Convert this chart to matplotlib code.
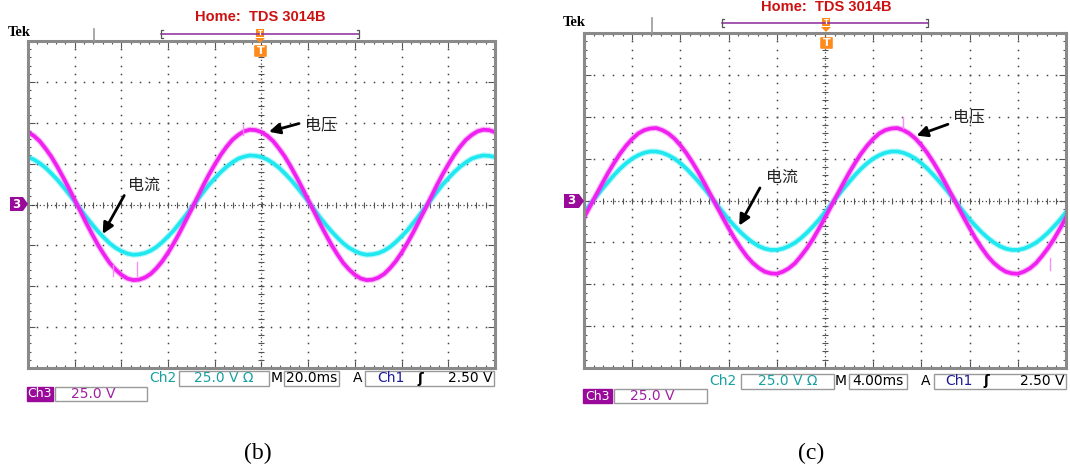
import numpy as np
import matplotlib
matplotlib.use("Agg")
import matplotlib.pyplot as plt
from matplotlib.patches import Rectangle, Polygon, FancyBboxPatch

# ---- trace samples, in screen divisions (10 x 8 grid) ----
# one sample every 0.125 div; each period spans 40 samples (5 div) and the
# screen shows two periods plus the closing sample
x_div = np.linspace(-5, 5, 81)

# panel (b): M 20.0ms
volt_b_cycle = [1.77, 1.68, 1.55, 1.37, 1.17, 0.93, 0.67, 0.40, 0.11, -0.17,
                -0.46, -0.73, -0.99, -1.22, -1.43, -1.59, -1.72, -1.81, -1.85, -1.84,
                -1.79, -1.70, -1.56, -1.39, -1.18, -0.94, -0.68, -0.40, -0.12, 0.17,
                0.46, 0.73, 0.98, 1.21, 1.41, 1.58, 1.70, 1.79, 1.83, 1.82]
curr_b_cycle = [1.16, 1.10, 1.01, 0.90, 0.76, 0.61, 0.44, 0.26, 0.08, -0.12,
                -0.31, -0.49, -0.66, -0.81, -0.95, -1.06, -1.14, -1.20, -1.23, -1.22,
                -1.19, -1.13, -1.04, -0.92, -0.78, -0.63, -0.45, -0.27, -0.08, 0.11,
                0.30, 0.48, 0.64, 0.79, 0.92, 1.03, 1.12, 1.17, 1.20, 1.19]

# panel (c): M 4.00ms
volt_c_cycle = [-0.41, -0.14, 0.13, 0.40, 0.66, 0.90, 1.12, 1.31, 1.47, 1.60,
                1.68, 1.72, 1.73, 1.68, 1.60, 1.48, 1.32, 1.13, 0.91, 0.67,
                0.41, 0.14, -0.13, -0.40, -0.66, -0.91, -1.13, -1.33, -1.49, -1.61,
                -1.70, -1.74, -1.75, -1.70, -1.62, -1.50, -1.33, -1.14, -0.92, -0.67]
curr_c_cycle = [-0.28, -0.10, 0.09, 0.27, 0.44, 0.61, 0.76, 0.89, 1.00, 1.08,
                1.14, 1.17, 1.17, 1.14, 1.08, 1.00, 0.89, 0.76, 0.61, 0.45,
                0.28, 0.10, -0.09, -0.27, -0.45, -0.61, -0.76, -0.89, -1.00, -1.09,
                -1.15, -1.18, -1.18, -1.15, -1.09, -1.01, -0.90, -0.77, -0.62, -0.46]

# glitch spikes on the voltage trace: (x, y_low, y_high)
spikes_b = [(-0.40, 1.70, 1.95), (-3.18, -1.75, -1.48), (-2.67, -1.75, -1.41)]
spikes_c = [(1.62, 1.73, 1.99), (4.67, -1.66, -1.37)]

# readout strings
timebase_b = "20.0ms"
timebase_c = "4.00ms"
ch2_scale = "25.0 V \u03a9"
ch3_scale = "25.0 V"
trig_level = "2.50 V"

MAGENTA = "#f020f0"
CYAN = "#20e8f0"
ORANGE = "#ff8a1c"
PURPLE = "#9a0a9a"
W, H = 1070, 468

fig = plt.figure(figsize=(W / 100, H / 100), dpi=100)


def px_axes(l, t, r, b):
    return fig.add_axes([l / W, 1 - b / H, (r - l) / W, (b - t) / H])


def two_periods(cycle):
    return cycle + cycle + cycle[:1]


def draw_screen(ax, volt, curr, spikes):
    ax.set_xlim(-5, 5)
    ax.set_ylim(-4, 4)
    ax.set_xticks(np.arange(-5, 5.01, 1))
    ax.set_yticks(np.arange(-4, 4.01, 1))
    ax.set_xticks(np.arange(-5, 5.01, 0.2), minor=True)
    ax.set_yticks(np.arange(-4, 4.01, 0.2), minor=True)
    ax.tick_params(which="both", direction="in", top=True, right=True,
                   labelbottom=False, labelleft=False, color="#555555", width=0.8)
    ax.tick_params(which="major", length=5)
    ax.tick_params(which="minor", length=2.5)
    for s in ax.spines.values():
        s.set_color("#8a8a8a")
        s.set_linewidth(2.2)

    fine = np.arange(-4, 4.01, 0.2)
    fine_x = np.arange(-5, 5.01, 0.2)
    for xv in range(-4, 5):
        if xv != 0:
            ax.plot(np.full_like(fine, xv), fine, ls="none", marker="s",
                    ms=1.1, color="#444444", mew=0)
    for yv in range(-3, 4):
        if yv != 0:
            ax.plot(fine_x, np.full_like(fine_x, yv), ls="none", marker="s",
                    ms=1.1, color="#444444", mew=0)
    # centre cross: dotted lines with small division ticks
    ax.axhline(0, color="#444444", lw=0.9, ls=(0, (1, 2)))
    ax.axvline(0, color="#444444", lw=0.9, ls=(0, (1, 2)))
    ax.plot(fine_x, np.zeros_like(fine_x), ls="none", marker="|", ms=5,
            color="#555555", mew=0.8)
    ax.plot(np.zeros_like(fine), fine, ls="none", marker="_", ms=5,
            color="#555555", mew=0.8)

    # traces (soft halo under a solid core)
    ax.plot(x_div, curr, color=CYAN, lw=4.4, alpha=0.3, solid_joinstyle="round")
    ax.plot(x_div, curr, color=CYAN, lw=2.7, solid_joinstyle="round")
    ax.plot(x_div, volt, color=MAGENTA, lw=4.4, alpha=0.3, solid_joinstyle="round")
    ax.plot(x_div, volt, color=MAGENTA, lw=2.7, solid_joinstyle="round")
    for sx, lo, hi in spikes:
        ax.plot([sx, sx], [lo, hi], color="#f590f5", lw=1.0)


def label_arrow(ax, text, text_xy, tail, head):
    ax.annotate("", xy=head, xytext=tail,
                arrowprops=dict(arrowstyle="-|>", color="black", lw=2.0,
                                mutation_scale=16, shrinkA=0, shrinkB=0))
    ax.text(text_xy[0], text_xy[1], text, fontsize=11.5, color="#222222",
            family=["Noto Sans CJK SC", "DejaVu Sans"], ha="left", va="center")


scope_b = px_axes(28, 41, 495, 368)
scope_c = px_axes(584, 33, 1066, 368)
draw_screen(scope_b, two_periods(volt_b_cycle), two_periods(curr_b_cycle), spikes_b)
draw_screen(scope_c, two_periods(volt_c_cycle), two_periods(curr_c_cycle), spikes_c)

label_arrow(scope_b, "电压", (0.93, 1.96), (0.80, 1.98), (0.16, 1.78))
label_arrow(scope_b, "电流", (-2.86, 0.47), (-2.94, 0.22), (-3.40, -0.72))
label_arrow(scope_c, "电压", (2.66, 2.0), (2.55, 1.82), (1.90, 1.55))
label_arrow(scope_c, "电流", (-1.22, 0.56), (-1.35, 0.30), (-1.78, -0.60))

# ---- header, markers and readouts in pixel coordinates ----
ov = fig.add_axes([0, 0, 1, 1])
ov.set_xlim(0, W)
ov.set_ylim(H, 0)
ov.axis("off")


def box(x0, x1, y0, y1, fc="white", ec="#9a9a9a"):
    ov.add_patch(Rectangle((x0, y0), x1 - x0, y1 - y0, facecolor=fc,
                           edgecolor=ec, lw=1.0))


def trigger_marks(xc, y_bar, y_top):
    # small trigger position tag on the record bar
    ov.add_patch(Rectangle((xc - 4, y_bar - 5), 8, 8, facecolor=ORANGE,
                           edgecolor="none"))
    ov.text(xc, y_bar - 1, "T", fontsize=5, color="white", weight="bold",
            ha="center", va="center")
    ov.add_patch(Polygon([(xc - 5, y_bar + 4), (xc + 5, y_bar + 4), (xc, y_bar + 9)],
                         closed=True, facecolor=ORANGE, edgecolor="none"))
    # T marker just inside the top of the screen
    ov.add_patch(FancyBboxPatch((xc - 5, y_top + 5), 11, 10,
                                boxstyle="round,pad=0.8", facecolor=ORANGE,
                                edgecolor="none"))
    ov.text(xc + 0.5, y_top + 10.5, "T", fontsize=8, color="white", weight="bold",
            ha="center", va="center")


def header(x_tek, y_tek, x_tick, x_br0, x_br1, y_br, xc, y_home, y_top):
    ov.text(xc, y_home, "Home:  TDS 3014B", fontsize=10.5, color="#cc1111",
            weight="bold", family="Liberation Sans", ha="center", va="center")
    ov.text(x_tek, y_tek, "Tek", fontsize=10.5, color="black", weight="bold",
            family="Liberation Serif", ha="left", va="center")
    ov.plot([x_tick, x_tick], [y_br - 5, y_top], color="#999999", lw=1.2)
    ov.plot([x_br0, x_br1], [y_br, y_br], color="#8a2a9a", lw=1.1)
    for xb, d in ((x_br0, 2), (x_br1, -2)):
        ov.plot([xb + d, xb, xb, xb + d], [y_br - 4, y_br - 4, y_br + 4, y_br + 4],
                color="#555555", lw=0.9)
    trigger_marks(xc, y_br, y_top)


def ch3_marker(x0, x1, yc):
    ov.add_patch(Polygon([(x0, yc - 7), (x1 - 5, yc - 7), (x1, yc),
                          (x1 - 5, yc + 7), (x0, yc + 7)], closed=True,
                         facecolor=PURPLE, edgecolor="none"))
    ov.text((x0 + x1 - 5) / 2, yc, "3", fontsize=8.5, color="white",
            weight="bold", ha="center", va="center")


def readouts(y1, y2, xs, timebase):
    (ch2_x, b2a, b2b, m_x, bma, bmb, a_x, bta, btb, ch1_x, slope_x,
     ch3a, ch3b, b3b) = xs
    rf = dict(fontsize=10, va="center", family="DejaVu Sans")
    ov.text(ch2_x, y1, "Ch2", color="#1aa0a0", ha="left", **rf)
    box(b2a, b2b, y1 - 7.5, y1 + 7.5)
    ov.text((b2a + b2b) / 2, y1, ch2_scale, color="#1aa0a0", ha="center", **rf)
    ov.text(m_x, y1, "M", color="black", ha="left", **rf)
    box(bma, bmb, y1 - 7.5, y1 + 7.5)
    ov.text((bma + bmb) / 2, y1, timebase, color="black", ha="center", **rf)
    ov.text(a_x, y1, "A", color="black", ha="left", **rf)
    box(bta, btb, y1 - 7.5, y1 + 7.5)
    ov.text(ch1_x, y1, "Ch1", color="#1a1a9a", ha="left", **rf)
    ov.text(slope_x, y1, "\u0283", color="black", ha="center", weight="bold",
            fontsize=10, va="center")
    ov.text(btb - 2, y1, trig_level, color="black", ha="right", **rf)
    box(ch3a, ch3b, y2 - 7, y2 + 7, fc=PURPLE, ec=PURPLE)
    ov.text((ch3a + ch3b) / 2, y2, "Ch3", color="white", ha="center",
            fontsize=9, va="center", family="DejaVu Sans")
    box(ch3b + 2, b3b, y2 - 7, y2 + 7)
    ov.text(ch3b + 18, y2, ch3_scale, color="#a020a0", ha="left", **rf)


header(8, 33, 94, 161, 359, 34, 260, 17, 41)
header(563, 22, 652, 722, 928, 23, 826, 7, 33)
ch3_marker(10, 28, 204)
ch3_marker(564, 584, 201)

readouts(378.5, 393.5,
         (149, 179, 269, 271, 284, 339, 353, 365, 494, 377, 420, 27, 53, 147),
         timebase_b)
readouts(381, 396,
         (709, 741, 834, 835, 849, 907, 921, 934, 1066, 945, 986, 583, 612, 707),
         timebase_c)

ov.text(258, 453, "(b)", fontsize=17, family="Liberation Serif",
        ha="center", va="center")
ov.text(811, 453, "(c)", fontsize=17, family="Liberation Serif",
        ha="center", va="center")

fig.savefig("out.png", dpi=100)
